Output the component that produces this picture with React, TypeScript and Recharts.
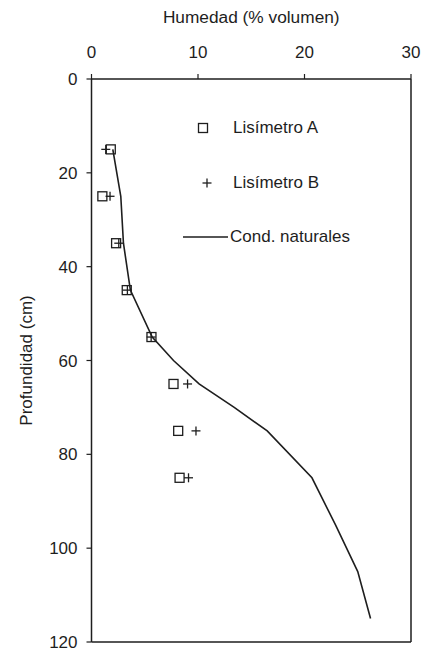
import { Legend, ReferenceLine, Scatter, ScatterChart, XAxis, YAxis } from "recharts";

// profundidad (cm) de cada medida
const profundidades = [15, 25, 35, 45, 55, 65, 75, 85];
const lisimetroA = [1.81, 1.02, 2.31, 3.31, 5.63, 7.7, 8.14, 8.27];
const lisimetroB = [1.34, 1.74, 2.56, 3.37, 5.6, 9.02, 9.81, 9.11];

// perfil en condiciones naturales
const profNatural = [15, 25, 35, 45, 55, 60, 65, 70, 75, 85, 95, 105, 115];
const humNatural = [2.0, 2.75, 3.0, 3.65, 5.7, 7.7, 10.1, 13.4, 16.5, 20.7, 22.9, 25.0, 26.2];

const ticksX = [0, 10, 20, 30];
const ticksY = [0, 20, 40, 60, 80, 100, 120];

const nombres = ["Lisímetro A", "Lisímetro B", "Cond. naturales"];

const FONT = "'Liberation Sans', Arial, sans-serif";
const INK = "#1e1e1e";

const dataA = profundidades.map((y, i) => ({ x: lisimetroA[i], y }));
const dataB = profundidades.map((y, i) => ({ x: lisimetroB[i], y }));
const dataNat = profNatural.map((y, i) => ({ x: humNatural[i], y }));

const Cuadrado = (p: any) => (
  <rect x={p.cx - 4.5} y={p.cy - 4.5} width={9} height={9} fill="none" stroke={INK} strokeWidth={1.3} />
);

const Cruz = (p: any) => (
  <g stroke={INK} strokeWidth={1.3}>
    <line x1={p.cx - 4.5} y1={p.cy} x2={p.cx + 4.5} y2={p.cy} />
    <line x1={p.cx} y1={p.cy - 4.5} x2={p.cx} y2={p.cy + 4.5} />
  </g>
);

const Nada = () => <g />;

const Leyenda = () => {
  const txt = { position: "absolute" as const, fontFamily: FONT, fontSize: 17, color: INK, lineHeight: "20px", whiteSpace: "nowrap" as const };
  return (
    <div style={{ position: "relative", width: 428, height: 1 }}>
      <svg style={{ position: "absolute", left: 0, top: 0, overflow: "visible" }} width={428} height={300}>
        <rect x={198.5} y={123.5} width={9} height={9} fill="none" stroke={INK} strokeWidth={1.3} />
        <line x1={202.5} y1={183} x2={211.5} y2={183} stroke={INK} strokeWidth={1.3} />
        <line x1={207} y1={178.5} x2={207} y2={187.5} stroke={INK} strokeWidth={1.3} />
        <line x1={183} y1={237} x2={228} y2={237} stroke={INK} strokeWidth={1.6} />
      </svg>
      <div style={{ ...txt, left: 233, top: 118 }}>{nombres[0]}</div>
      <div style={{ ...txt, left: 233, top: 173 }}>{nombres[1]}</div>
      <div style={{ ...txt, left: 230, top: 227 }}>{nombres[2]}</div>
    </div>
  );
};

const tickStyle = { fill: INK, fontSize: 17, fontFamily: FONT };

export default function App() {
  return (
    <div style={{ position: "absolute", left: 0, top: 0, background: "#fff" }}>
      <ScatterChart width={428} height={653} margin={{ top: 0, right: 17, bottom: 11, left: 0 }}>
        <XAxis
          type="number"
          dataKey="x"
          orientation="top"
          domain={[0, 30]}
          ticks={ticksX}
          height={79}
          tickSize={5}
          tickMargin={16}
          tick={tickStyle}
          axisLine={{ stroke: INK, strokeWidth: 1.5 }}
          tickLine={{ stroke: INK, strokeWidth: 1.2 }}
          label={{ value: "Humedad (% volumen)", position: "insideTop", offset: 10.5, fill: INK, fontSize: 17.3, fontFamily: FONT }}
        />
        <YAxis
          type="number"
          dataKey="y"
          reversed
          domain={[0, 120]}
          ticks={ticksY}
          width={91.5}
          tickSize={5}
          tickMargin={9}
          tick={tickStyle}
          axisLine={{ stroke: INK, strokeWidth: 1.5 }}
          tickLine={{ stroke: INK, strokeWidth: 1.2 }}
          label={{
            value: "Profundidad (cm)",
            angle: -90,
            position: "insideLeft",
            offset: 25.5,
            fill: INK,
            fontSize: 17,
            fontFamily: FONT,
            style: { textAnchor: "middle" },
          }}
        />
        <ReferenceLine x={30} stroke={INK} strokeWidth={1.5} />
        <ReferenceLine y={120} stroke={INK} strokeWidth={1.5} />
        <Scatter name={nombres[2]} data={dataNat} line={{ stroke: INK, strokeWidth: 1.6 }} shape={Nada} isAnimationActive={false} />
        <Scatter name={nombres[0]} data={dataA} shape={Cuadrado} isAnimationActive={false} />
        <Scatter name={nombres[1]} data={dataB} shape={Cruz} isAnimationActive={false} />
        <Legend
          layout="horizontal"
          verticalAlign="middle"
          align="center"
          wrapperStyle={{ left: 0, top: 0, width: 428, height: 1 }}
          content={Leyenda}
        />
      </ScatterChart>
    </div>
  );
}
